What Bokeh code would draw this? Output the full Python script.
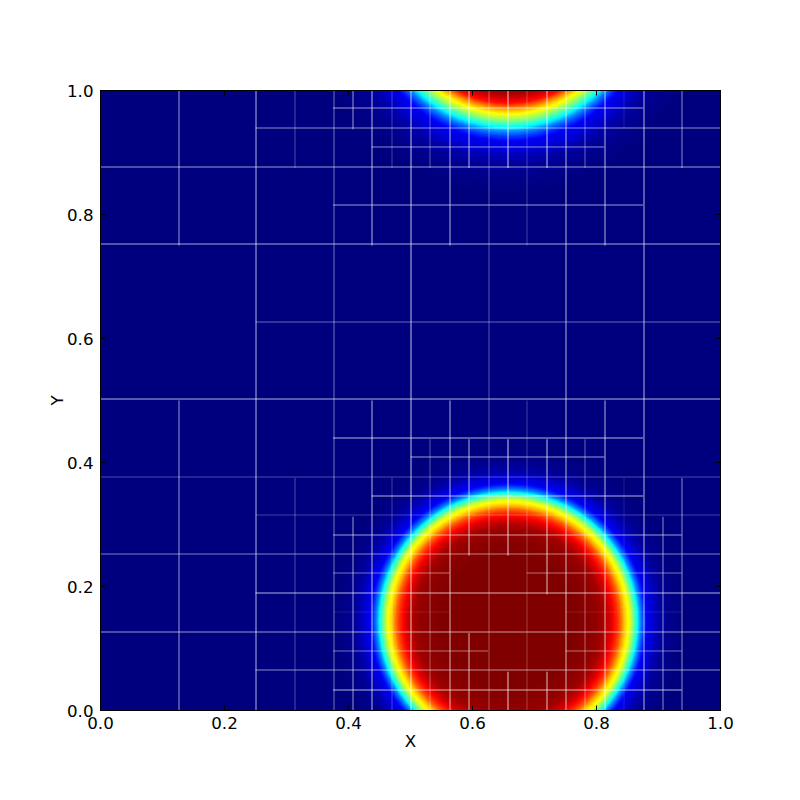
import math
from bokeh.embed import file_html
from bokeh.models import ColumnDataSource, FixedTicker, LinearAxis, NumeralTickFormatter, Range1d
from bokeh.plotting import figure
from bokeh.resources import INLINE

# tick labels
tick_values = [0.0, 0.2, 0.4, 0.6, 0.8, 1.0]

# the field: disc radius (in 1/620 of the axis) and its value, outermost first
ring_value = [.003, .008, .015, .025, .035, .05, .065, .08, .09, .10, .115, .135, .155, .175, .20, .225, .25,
              .28, .32, .36, .39, .42, .45, .48, .51, .54, .57, .60, .62, .64, .66, .68, .70, .72, .745, .77,
              .79, .815, .84, .865, .89, .91, .93, .95, .96, .97, .98, .985, .99, .995, 1.0]
lower_radius = [172, 167, 162, 158, 154, 151, 148, 146, 144, 142, 139, 138, 137, 136, 135, 134, 133, 132, 131,
                130, 129, 128, 127, 126, 125, 124, 123, 122, 121, 119.5, 118, 117, 116, 115, 114, 113, 112, 110.5,
                109, 107, 105, 103, 101, 98, 96, 94, 90, 86, 82, 76, 70]
upper_radius = [196, 188, 181, 175, 169, 164, 160, 157, 154, 151, 146.5, 145, 143.5, 142, 140.5, 139, 137.5, 136,
                134.5, 133, 131.5, 130, 128.5, 127, 125.5, 124, 122.5, 121, 119.5, 118, 117, 116, 115, 114, 113,
                112, 111, 110, 109, 108, 106, 104, 102, 100, 98, 96, 92, 88, 84, 78, 72]
lower_centre = (0.658, 0.1435)
upper_centre = (0.658, 1.153)

# mesh edges in 1/64 of the axis: (position, from, to)
vertical_edges = [(8, 0, 32), (8, 48, 64), (16, 0, 64), (20, 0, 24), (20, 56, 64), (24, 0, 64), (26, 0, 20),
                  (26, 60, 64), (28, 0, 32), (28, 48, 64), (30, 0, 24), (30, 56, 64), (32, 0, 64), (34, 0, 28),
                  (34, 56, 64), (36, 0, 32), (36, 48, 64), (38, 0, 8), (38, 16, 28), (38, 56, 64), (40, 0, 64),
                  (42, 0, 4), (42, 16, 28), (42, 56, 64), (44, 0, 32), (44, 48, 64), (46, 0, 4), (46, 12, 28),
                  (46, 56, 64), (48, 0, 64), (50, 0, 28), (50, 56, 64), (52, 0, 32), (52, 48, 64), (54, 0, 24),
                  (54, 60, 64), (56, 0, 64), (58, 0, 20), (60, 0, 24), (60, 56, 64)]
horizontal_edges = [(2, 24, 60), (4, 16, 64), (6, 24, 40), (6, 48, 60), (8, 0, 64), (10, 24, 36), (10, 48, 60),
                    (12, 16, 64), (14, 24, 36), (14, 44, 60), (16, 0, 64), (18, 24, 60), (20, 16, 64),
                    (22, 28, 56), (24, 0, 64), (26, 32, 52), (28, 24, 56), (32, 0, 64), (40, 16, 64), (48, 0, 64),
                    (52, 24, 56), (56, 0, 64), (58, 28, 52), (60, 16, 64), (62, 24, 56)]

# how strongly each mesh line shows
vertical_alpha = {8: .6, 16: .7, 20: .3, 24: .45, 26: .6, 28: .7, 30: .25, 32: .75, 34: .35, 36: .7, 38: .7,
                  40: .35, 42: .8, 44: .25, 46: .75, 48: .7, 50: .4, 52: .7, 54: .12, 56: .7, 58: .55, 60: .55}
horizontal_alpha = {2: .7, 4: .55, 6: .45, 8: .6, 10: .1, 12: .7, 14: .45, 16: .5, 18: .6, 20: .25, 22: .7,
                    24: .3, 26: .6, 28: .7, 32: .7, 40: .4, 48: .65, 52: .6, 56: .6, 58: .55, 60: .55, 62: .6}

SIDE = 620.0


def jet(v):
    def chan(x):
        return int(round(255 * max(0.0, min(1.0, 1.5 - abs(4 * v - x)))))
    return "#%02x%02x%02x" % (chan(3), chan(2), chan(1))


def snap_x(k):
    return (math.floor(SIDE * k / 64 + 0.5) + 0.5) / SIDE


def snap_y(k):
    return (math.ceil(SIDE * k / 64 + 0.5) + 0.5) / SIDE


p = figure(width=780, height=790, x_range=Range1d(0, 1), y_range=Range1d(0, 1),
           output_backend="svg", toolbar_location=None, x_axis_label="X", y_axis_label="Y",
           min_border_left=100, min_border_right=60, min_border_top=90, min_border_bottom=80,
           background_fill_color="#00007f", border_fill_color="white")
p.grid.visible = False
p.outline_line_color = "black"
p.outline_line_width = 1

colours = [jet(v) for v in ring_value]
for (cx, cy), ring_radius in ((lower_centre, lower_radius), (upper_centre, upper_radius)):
    radii = [r / SIDE for r in ring_radius]
    src = ColumnDataSource(dict(x=[cx] * len(radii), y=[cy] * len(radii), r=radii, c=colours))
    p.circle(x="x", y="y", radius="r", fill_color="c", line_color=None, source=src)

sx0, sy0, sx1, sy1, sa = [], [], [], [], []
for k, a, b in vertical_edges:
    sx0.append(snap_x(k)); sx1.append(snap_x(k)); sy0.append(a / 64); sy1.append(b / 64)
    sa.append(vertical_alpha[k])
for k, a, b in horizontal_edges:
    sy0.append(snap_y(k)); sy1.append(snap_y(k)); sx0.append(a / 64); sx1.append(b / 64)
    sa.append(horizontal_alpha[k])
p.segment("x0", "y0", "x1", "y1", line_color="white", line_width=1, line_alpha="a",
          source=ColumnDataSource(dict(x0=sx0, y0=sy0, x1=sx1, y1=sy1, a=sa)))

for ax in (p.xaxis[0], p.yaxis[0]):
    ax.ticker = FixedTicker(ticks=tick_values)
    ax.formatter = NumeralTickFormatter(format="0.0")
    ax.major_tick_in = 5
    ax.major_tick_out = 0
    ax.minor_tick_in = 0
    ax.minor_tick_out = 0
    ax.major_tick_line_color = "black"
    ax.axis_line_color = "black"
    ax.major_label_text_font = "DejaVu Sans"
    ax.major_label_text_font_size = "16.67px"
    ax.major_label_text_color = "black"
    ax.axis_label_text_font = "DejaVu Sans"
    ax.axis_label_text_font_size = "16.67px"
    ax.axis_label_text_font_style = "normal"
    ax.axis_label_text_color = "black"
p.xaxis[0].major_label_standoff = 6
p.yaxis[0].major_label_standoff = 7
p.xaxis[0].axis_label_standoff = 0
p.yaxis[0].axis_label_standoff = -3

for side in ("above", "right"):
    ax = LinearAxis(ticker=FixedTicker(ticks=tick_values), major_tick_in=5, major_tick_out=0,
                    minor_tick_in=0, minor_tick_out=0, major_label_standoff=0,
                    major_label_overrides={t: "" for t in tick_values}, major_label_text_font_size="0px",
                    axis_line_color="black", major_tick_line_color="black")
    p.add_layout(ax, side)

open("out.html", "w").write(file_html(p, INLINE))
